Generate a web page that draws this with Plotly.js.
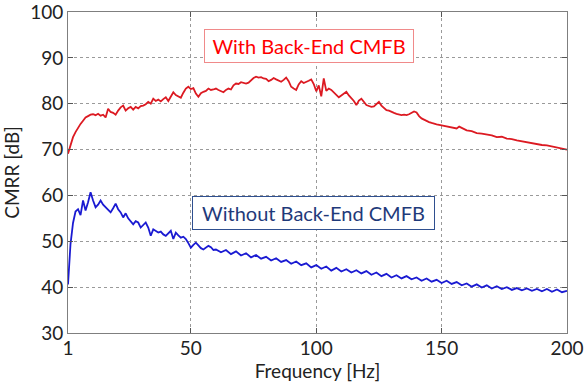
<!DOCTYPE html>
<html><head><meta charset="utf-8">
<script src="https://cdn.plot.ly/plotly-3.0.1.min.js"></script>
<style>html,body{margin:0;padding:0;background:#fff}#chart{width:586px;height:382px}</style>
</head><body><div id="chart"></div>
<script>
const xTickVals = [1, 50, 100, 150, 200];
const xTickText = ['1', '50', '100', '150', '200'];
const yTickVals = [30, 40, 50, 60, 70, 80, 90, 100];

const redFreq = [1,2,3,4,5,6,7,8,9,10,11,12,13,14,15,16,17,18,19,20,21,22,23,24,25,26,27,28,29,30,
31,32,33,34,35,36,37,38,39,40,41,42,43,44,45,46,47,48,49,50,51,52,53,54,55,56,57,58,59,60,
61,62,63,64,65,66,67,68,69,70,71,72,73,74,75,76,77,78,79,80,81,82,83,84,85,86,87,88,89,90,
91,92,93,94,95,96,97,98,99,100,101,102,103,104,105,106,107,108,109,110,111,112,113,114,115,116,117,118,119,120,
121,122,123,124,125,126,127,128,129,130,131,132,133,134,135,136,137,138,139,140,141,142,143,144,145,146,147,148,
150,152,154,156,157,158,160,162,164,166,168,170,172,174,176,178,180,182,184,186,188,190,192,194,196,198,200];
const redCmrr = [69.1,71.2,72.7,73.8,74.8,75.6,76.3,77.0,77.3,77.6,77.7,77.5,77.8,77.4,77.6,77.0,78.9,78.2,78.0,77.6,
78.5,79.2,79.6,78.5,79.0,79.3,78.7,79.3,79.0,79.5,79.6,79.9,80.4,80.0,81.1,80.6,80.9,80.5,81.0,81.4,
80.6,81.5,82.5,81.9,81.6,81.3,82.4,83.3,83.7,83.2,83.4,82.2,81.5,82.3,82.6,82.8,83.3,83.0,83.1,83.3,
83.0,82.7,82.5,83.0,83.3,83.1,84.0,84.4,84.3,84.7,84.6,84.4,84.6,85.2,85.6,85.9,85.7,85.8,85.5,85.4,
84.9,85.2,85.6,85.3,85.0,84.8,85.2,85.7,84.9,83.7,83.3,83.0,84.2,84.9,84.5,84.7,85.0,85.3,84.3,82.7,
84.0,81.6,85.5,82.8,83.3,83.0,82.4,82.0,81.4,81.8,82.3,82.6,81.8,81.2,80.6,79.7,80.7,81.1,80.3,79.7,
79.5,79.3,79.4,80.0,80.4,79.6,79.0,78.6,78.5,78.2,78.0,77.8,77.6,77.5,77.6,77.5,77.7,78.0,78.3,78.1,
77.3,76.8,76.5,76.2,76.0,75.8,75.6,75.5,
75.3,75.1,74.9,74.6,75.0,74.7,74.2,74.0,73.6,73.5,73.3,73.1,72.7,72.8,72.4,72.3,72.0,71.8,71.5,71.3,71.2,71.0,70.9,70.7,70.5,70.3,70.0];

const blueFreq = [1,2,3,4,5,6,7,8,9,10,11,12,13,14,15,16,17,18,19,20,21,22,23,24,25,26,27,28,29,30,
31,32,33,34,35,36,37,38,39,40,41,42,43,44,45,46,47,48,49,50,51,52,53,54,55,56,57,58,59,60,
62,64,66,68,70,72,74,76,78,80,82,84,86,88,90,92,94,96,98,100,102,104,106,108,110,112,114,116,118,120,
122,124,126,128,130,132,134,136,138,140,142,144,146,148,150,152,154,156,158,160,162,164,166,168,170,172,174,176,178,180,
182,184,186,188,190,192,194,196,198,200];
const blueCmrr = [40.6,49.4,54.0,56.5,57.0,55.7,58.9,56.7,58.5,60.7,58.9,57.4,58.0,58.9,58.0,57.4,57.0,56.3,57.2,58.2,
57.0,56.3,55.2,56.1,55.0,54.3,53.7,54.4,54.1,53.0,53.6,54.1,53.0,51.2,52.6,52.2,51.9,52.1,51.5,51.2,
51.8,52.3,50.5,51.9,51.3,50.8,51.0,50.5,49.6,48.6,49.2,49.7,49.1,48.5,48.2,48.7,49.0,48.7,48.1,48.2,
47.6,48.1,47.2,47.8,46.9,47.4,46.5,47.0,46.2,46.6,45.8,46.3,45.5,45.9,45.1,45.6,44.8,45.2,44.3,44.8,
44.0,44.5,43.6,44.2,43.4,43.9,43.2,43.7,43.0,43.5,42.7,43.2,42.4,42.9,42.1,42.6,41.9,42.4,41.7,42.1,
41.4,41.9,41.2,41.6,40.9,41.4,40.7,41.1,40.4,40.8,40.1,40.6,39.9,40.4,39.7,40.2,39.6,40.0,39.4,39.8,
39.3,39.7,39.2,39.6,39.1,39.6,39.0,39.5,38.9,39.2];

const FONT = 'Lato, "Open Sans", sans-serif';

const traces = [
  {x: redFreq, y: redCmrr, type: 'scatter', mode: 'lines', line: {color: '#dc1a22', width: 1.8}, hoverinfo: 'skip'},
  {x: blueFreq, y: blueCmrr, type: 'scatter', mode: 'lines', line: {color: '#1a1ad2', width: 1.8}, hoverinfo: 'skip'}
];

const axisCommon = {
  showline: true, linecolor: '#7f7f7f', linewidth: 1, mirror: 'allticks',
  ticks: 'inside', ticklen: 5, tickcolor: '#555',
  showgrid: true, gridcolor: '#9a9a9a', griddash: 'dot', gridwidth: 1,
  zeroline: false, tickfont: {family: FONT, size: 19, color: '#222'},
  ticklabeloverflow: 'allow'
};

const layout = {
  width: 586, height: 382,
  margin: {l: 68, r: 19, t: 12, b: 49},
  paper_bgcolor: '#fff', plot_bgcolor: '#fff',
  showlegend: false,
  font: {family: FONT, color: '#222'},
  xaxis: Object.assign({}, axisCommon, {
    range: [1, 200], tickvals: xTickVals, ticktext: xTickText, ticklabelstandoff: -2,
    title: {text: 'Frequency [Hz]', font: {family: FONT, size: 19, color: '#222'}, standoff: 0}
  }),
  yaxis: Object.assign({}, axisCommon, {
    range: [30, 100], tickvals: yTickVals, ticklabelstandoff: 0,
    title: {text: 'CMRR [dB]', font: {family: FONT, size: 19, color: '#222'}, standoff: 6}
  }),
  annotations: [
    {x: 97, y: 92.6, xref: 'x', yref: 'y', text: 'With Back-End CMFB', showarrow: false,
     font: {family: FONT, size: 20, color: '#ff0000'}, bgcolor: '#fff', bordercolor: '#f08a8a',
     borderwidth: 1, borderpad: 3, width: 202, height: 26},
    {x: 99, y: 56.2, xref: 'x', yref: 'y', text: 'Without Back-End CMFB', showarrow: false,
     font: {family: FONT, size: 20, color: '#1f3a7a'}, bgcolor: '#fff', bordercolor: '#2f4f8f',
     borderwidth: 1, borderpad: 3, width: 235, height: 26}
  ]
};

Plotly.newPlot('chart', traces, layout, {displayModeBar: false, staticPlot: true});
</script>
</body></html>
